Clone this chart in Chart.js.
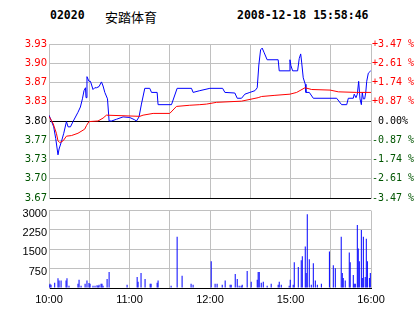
<!DOCTYPE html>
<html lang="zh">
<head>
  <meta charset="UTF-8">
  <title>02020 安踏体育</title>
  <script src="https://cdn.jsdelivr.net/npm/chart.js"></script>
  <style>
    body { margin: 0; width: 414px; height: 314px; background: #fff; position: relative; overflow: hidden; }
    .head { position: absolute; top: 8px; line-height: 16px; font: bold 11.5px "DejaVu Sans Mono", monospace; color: #000; white-space: pre; }
    .head.name { font: 13px "Noto Sans CJK SC", sans-serif; top: 7px; }
    canvas { position: absolute; left: 0; }
  </style>
</head>
<body>
  <div class="head" style="left:50px">02020</div>
  <div class="head name" style="left:105px">安踏体育</div>
  <div class="head" style="left:237px">2008-12-18 15:58:46</div>
  <canvas id="priceChart" width="414" height="206" style="top:0"></canvas>
  <canvas id="volumeChart" width="414" height="112" style="top:202px"></canvas>
  <script>
    // axis labels
    const basePrice = 3.80;
    const priceStep = 0.033;
    const priceTickLabels = ['3.67', '3.70', '3.73', '3.77', '3.80', '3.83', '3.87', '3.90', '3.93'];
    const pctTickLabels = ['-3.47 %', '-2.61 %', '-1.74 %', '-0.87 %', ' 0.00%', '+0.87 %', '+1.74 %', '+2.61 %', '+3.47 %'];
    const timeTickMinutes = [0, 60, 120, 180, 240];
    const timeTickLabels = ['10:00', '11:00', '12:00', '15:00', '16:00'];
    const volTicks = [0, 750, 1500, 2250, 3000];
    const volTickLabels = ['', '750', '1500', '2250', '3000'];

    // minutes of trading since 10:00 (lunch break removed)
    const priceTimes = [0, 1.8, 3.5, 5, 6.7, 7.5, 9.3, 11, 13, 14.2, 16, 17.9, 21.6, 23.4, 24.9, 26.1, 27.2, 27.6, 28.3, 29.8,
      30.9, 32.8, 34.1, 35.4, 37.3, 39.1, 40.3, 41.6, 43.6, 44.8, 46.6, 50.3, 55.2, 60.2, 63.9, 65.2, 67.1, 68.9, 71.4, 75.1,
      76.4, 80.6, 81.3, 91.3, 95.5, 106.2, 107.4, 112.4, 119.9, 129.4, 131.1, 138.5, 140.3, 143.5, 146, 149.7, 153.5, 155.2, 156.4, 157.7,
      158.9, 160.2, 162.6, 170.8, 171.6, 179, 179.6, 180.3, 181.6, 185.3, 186.5, 187.6, 188.3, 189.5, 191, 191.5, 194, 197, 214.4, 218.1,
      221.9, 223.1, 226.8, 227.5, 228.8, 229.8, 230.8, 231.8, 232.8, 233.5, 234.3, 235.3, 236.1, 236.8, 238, 239.8];
    const prices = [3.81, 3.80, 3.79, 3.77, 3.742, 3.752, 3.765, 3.779, 3.799, 3.79, 3.79, 3.799, 3.815, 3.824, 3.838, 3.852, 3.857, 3.84, 3.876, 3.868,
      3.868, 3.854, 3.857, 3.857, 3.859, 3.867, 3.86, 3.849, 3.838, 3.80, 3.80, 3.803, 3.807, 3.806, 3.802, 3.80, 3.807, 3.829, 3.856, 3.856,
      3.849, 3.849, 3.828, 3.828, 3.856, 3.856, 3.849, 3.852, 3.856, 3.856, 3.849, 3.848, 3.839, 3.839, 3.846, 3.849, 3.852, 3.857, 3.896, 3.922,
      3.925, 3.918, 3.905, 3.905, 3.886, 3.886, 3.905, 3.895, 3.886, 3.886, 3.907, 3.915, 3.901, 3.874, 3.863, 3.849, 3.849, 3.839, 3.839, 3.828,
      3.828, 3.839, 3.839, 3.846, 3.84, 3.846, 3.868, 3.838, 3.828, 3.849, 3.838, 3.838, 3.849, 3.868, 3.882, 3.886];

    const avgTimes = [0, 3, 5.5, 6.7, 8, 10.5, 13, 16.7, 21.6, 26.6, 27.9, 29.8, 36.5, 40.3, 42.8, 67.7, 70.1, 77.6, 90, 95,
      104.9, 112.4, 117.4, 124.9, 143.5, 155.9, 158.4, 168.4, 179.6, 184.6, 190.8, 195.8, 209.5, 215.7, 229.4, 240];
    const avgPrices = [3.808, 3.796, 3.779, 3.766, 3.763, 3.766, 3.774, 3.775, 3.779, 3.786, 3.792, 3.799, 3.80, 3.805, 3.81, 3.808, 3.81, 3.813, 3.813, 3.825,
      3.827, 3.828, 3.829, 3.832, 3.834, 3.84, 3.842, 3.844, 3.846, 3.849, 3.857, 3.854, 3.853, 3.85, 3.849, 3.849];

    const volTimes = [0, 0.75, 1.5, 4.25, 6.7, 7.5, 9, 12.7, 13.4, 14.9, 21.6, 22.4, 23.9, 26.9, 28.3, 29.8, 30.6, 32.8, 34.3, 35.8,
      36.6, 37.3, 38.8, 39.5, 40.3, 43.3, 44.8, 58.2, 65.7, 66.4, 68.6, 71.6, 75.4, 76.1, 80.6, 81.3, 91, 95.5, 99.2, 105.9,
      107.4, 120.9, 123.8, 125.3, 129.1, 131.3, 135, 135.8, 138.8, 140.3, 141.7, 143.2, 144, 147.7, 150.7, 155.2, 155.9, 156.7, 158.2, 159.7,
      162.6, 165.6, 170.8, 171.6, 173.1, 179, 179.8, 182, 182.8, 185.8, 188, 188.8, 191, 191.7, 192.5, 194, 195.5, 197, 198.5, 200,
      203, 209, 211.9, 213.4, 217.8, 218.6, 219.3, 220.8, 223.8, 224.5, 226.8, 227.5, 228.3, 229.8, 230.5, 231.3, 232.8, 233.5, 234.3, 235.7,
      236.5, 237.3, 238.8, 239.5];
    const volumes = [125, 163, 125, 200, 380, 290, 290, 290, 380, 87, 163, 315, 87, 163, 290, 190, 163, 87, 87, 110,
      87, 125, 163, 163, 87, 350, 620, 125, 430, 240, 580, 350, 163, 163, 200, 290, 87, 1985, 470, 163,
      125, 1037, 163, 163, 125, 290, 125, 125, 545, 350, 87, 87, 125, 660, 240, 315, 620, 620, 200, 240,
      87, 163, 125, 240, 125, 87, 315, 125, 1000, 810, 1075, 1230, 1610, 580, 2860, 1110, 125, 960, 290, 125,
      163, 1415, 885, 770, 1985, 580, 390, 290, 1380, 1000, 505, 163, 163, 2440, 1530, 1037, 2250, 390, 1985, 430,
      1910, 1037, 390, 580];

    const gridGray = '#c0c0c0';
    const upRed = '#ff0000';
    const downGreen = '#005500';
    const priceMin = basePrice - 4 * priceStep;
    const priceMax = basePrice + 4 * priceStep;

    function toPoints(xs, ys) {
      return xs.map((x, i) => ({ x: x, y: ys[i] }));
    }

    function priceTickValues(scale) {
      scale.ticks = priceTickLabels.map((_, i) => ({ value: basePrice + (i - 4) * priceStep }));
    }

    function halfHourTicks(scale) {
      scale.ticks = [];
      for (let m = 0; m <= 240; m += 30) scale.ticks.push({ value: m });
    }

    function labelColor(ctx) {
      if (ctx.index > 4) return upRed;
      if (ctx.index < 4) return downGreen;
      return '#000';
    }

    new Chart(document.getElementById('priceChart'), {
      type: 'line',
      data: {
        datasets: [
          { data: toPoints(avgTimes, avgPrices), borderColor: upRed, borderWidth: 1, pointRadius: 0, tension: 0, order: 1 },
          { data: toPoints(priceTimes, prices), borderColor: '#0000ff', borderWidth: 1, pointRadius: 0, tension: 0, order: 2 }
        ]
      },
      options: {
        responsive: false,
        animation: false,
        devicePixelRatio: 1,
        layout: { padding: { top: 44, bottom: 3 } },
        plugins: { legend: { display: false }, tooltip: { enabled: false } },
        scales: {
          x: {
            type: 'linear', min: 0, max: 240,
            afterBuildTicks: halfHourTicks,
            afterFit: s => { s.height = 0; },
            ticks: { display: false },
            grid: { color: gridGray, drawTicks: false },
            border: { display: false }
          },
          y: {
            position: 'left', min: priceMin, max: priceMax,
            afterBuildTicks: priceTickValues,
            afterFit: s => { s.width = 49; },
            ticks: {
              padding: 2, color: labelColor,
              font: { family: '"DejaVu Sans", sans-serif', size: 10 },
              callback: (v, i) => priceTickLabels[i]
            },
            grid: { color: ctx => (ctx.index === 0 || ctx.index === 4) ? '#000' : gridGray, drawTicks: false },
            border: { color: gridGray }
          },
          y1: {
            position: 'right', min: priceMin, max: priceMax,
            afterBuildTicks: priceTickValues,
            afterFit: s => { s.width = 43; },
            ticks: {
              padding: 1, color: labelColor,
              font: { family: '"DejaVu Sans Mono", monospace', size: 10 },
              callback: (v, i) => pctTickLabels[i]
            },
            grid: { display: false, drawTicks: false },
            border: { color: gridGray }
          }
        }
      }
    });

    new Chart(document.getElementById('volumeChart'), {
      type: 'bar',
      data: {
        datasets: [{ data: toPoints(volTimes, volumes), backgroundColor: '#0000ff', borderWidth: 0, barThickness: 1, inflateAmount: 0 }]
      },
      options: {
        responsive: false,
        animation: false,
        devicePixelRatio: 1,
        layout: { padding: { top: 7, right: 43 } },
        plugins: { legend: { display: false }, tooltip: { enabled: false } },
        scales: {
          x: {
            type: 'linear', min: 0, max: 240, offset: false,
            afterBuildTicks: halfHourTicks,
            afterFit: s => { s.height = 26; },
            ticks: {
              autoSkip: false, maxRotation: 0, padding: 5, color: '#000',
              font: { family: '"Liberation Sans", Arial, sans-serif', size: 11 },
              callback: v => {
                const i = timeTickMinutes.indexOf(v);
                return i < 0 ? '' : timeTickLabels[i];
              }
            },
            grid: { color: gridGray, drawTicks: false, offset: false },
            border: { color: '#000' }
          },
          y: {
            min: 0, max: 3000,
            afterBuildTicks: s => { s.ticks = volTicks.map(v => ({ value: v })); },
            afterFit: s => { s.width = 49; },
            ticks: {
              padding: 2, color: '#000', labelOffset: 3,
              font: { family: '"Liberation Sans", Arial, sans-serif', size: 11 },
              callback: (v, i) => volTickLabels[i]
            },
            grid: { color: ctx => ctx.index === 0 ? '#000' : gridGray, drawTicks: false },
            border: { color: gridGray }
          }
        }
      }
    });
  </script>
</body>
</html>
